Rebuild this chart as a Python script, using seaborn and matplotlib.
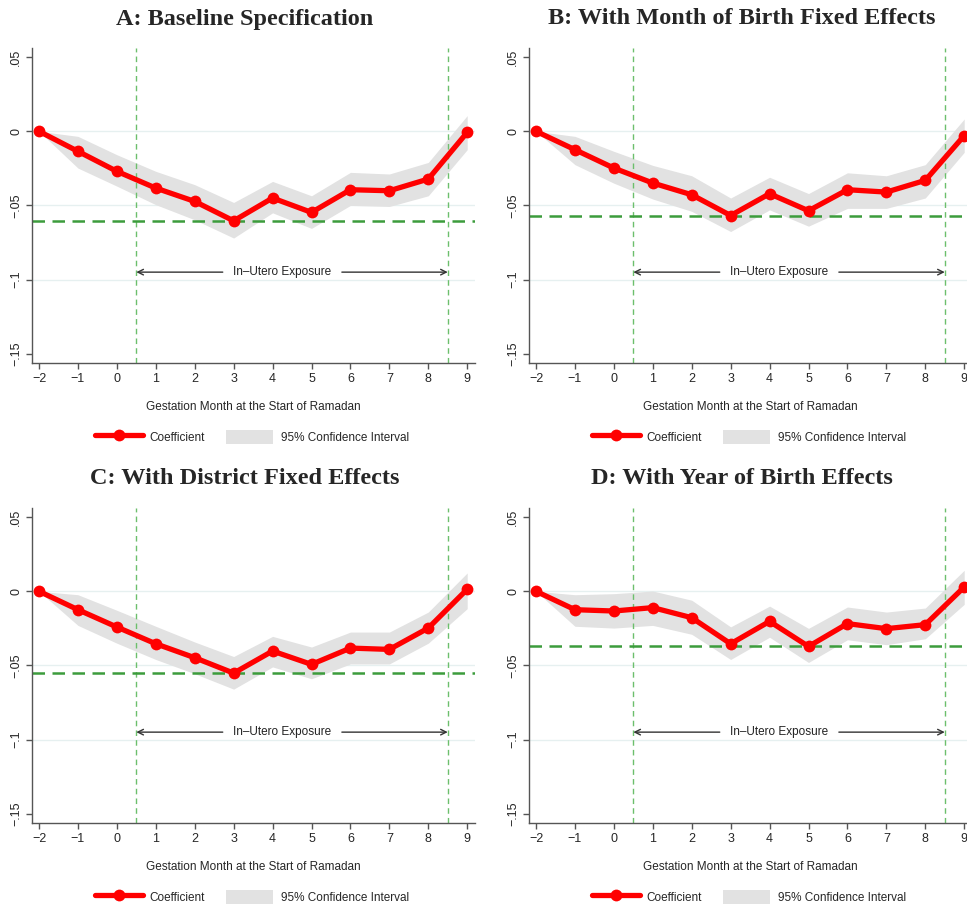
import numpy as np
import pandas as pd
import matplotlib.pyplot as plt
import seaborn as sns
from matplotlib.lines import Line2D
from matplotlib.patches import Patch

months = [-2, -1, 0, 1, 2, 3, 4, 5, 6, 7, 8, 9]

titles = ["A: Baseline Specification",
          "B: With Month of Birth Fixed Effects",
          "C: With District Fixed Effects",
          "D: With Year of Birth Effects"]

coef_a = [0, -0.0135, -0.0270, -0.0383, -0.0473, -0.0604, -0.0450, -0.0547, -0.0394, -0.0401, -0.0322, -0.0007]
lo_a = [0, -0.0248, -0.0370, -0.0495, -0.0597, -0.0720, -0.0550, -0.0655, -0.0500, -0.0507, -0.0435, -0.0124]
hi_a = [0, -0.0034, -0.0158, -0.0270, -0.0360, -0.0480, -0.0338, -0.0435, -0.0277, -0.0288, -0.0210, 0.0106]

coef_b = [0, -0.0124, -0.0248, -0.0349, -0.0428, -0.0568, -0.0421, -0.0536, -0.0394, -0.0410, -0.0331, -0.0029]
lo_b = [0, -0.0225, -0.0350, -0.0457, -0.0540, -0.0676, -0.0530, -0.0640, -0.0520, -0.0520, -0.0450, -0.0142]
hi_b = [0, -0.0034, -0.0135, -0.0230, -0.0300, -0.0450, -0.0310, -0.0420, -0.0280, -0.0300, -0.0225, 0.0083]

coef_c = [0, -0.0124, -0.0241, -0.0354, -0.0448, -0.0552, -0.0403, -0.0493, -0.0383, -0.0392, -0.0248, 0.0014]
lo_c = [0, -0.0230, -0.0350, -0.0460, -0.0556, -0.0660, -0.0510, -0.0590, -0.0490, -0.0490, -0.0350, -0.0117]
hi_c = [0, -0.0023, -0.0128, -0.0236, -0.0342, -0.0440, -0.0304, -0.0376, -0.0275, -0.0275, -0.0140, 0.0124]

coef_d = [0, -0.0124, -0.0133, -0.0110, -0.0178, -0.0354, -0.0203, -0.0372, -0.0218, -0.0252, -0.0225, 0.0029]
lo_d = [0, -0.0236, -0.0248, -0.0230, -0.0290, -0.0460, -0.0310, -0.0480, -0.0327, -0.0360, -0.0320, -0.0088]
hi_d = [0, -0.0023, -0.0016, 0.0002, -0.0060, -0.0240, -0.0100, -0.0250, -0.0106, -0.0140, -0.0113, 0.0142]

frames = []
for t, c, lo, hi in zip(titles, [coef_a, coef_b, coef_c, coef_d],
                        [lo_a, lo_b, lo_c, lo_d], [hi_a, hi_b, hi_c, hi_d]):
    frames.append(pd.DataFrame({"panel": t, "month": months, "coef": c, "lo": lo, "hi": hi}))
df = pd.concat(frames, ignore_index=True)

yticks = [0.05, 0, -0.05, -0.1, -0.15]
yticklabels = [".05", "0", "\u2212.05", "\u2212.1", "\u2212.15"]

sns.set_style("white")
plt.rcParams['font.family'] = ['Liberation Sans', 'DejaVu Sans']

W, H = 967, 905
fig = plt.figure(figsize=(W / 100, H / 100), dpi=100)

# axes boxes in pixels: left, top, right, bottom
boxes = [(32, 48, 475, 363), (529, 48, 972, 363),
         (32, 508, 475, 823), (529, 508, 972, 823)]
title_x = [245, 742, 245, 742]

for i, t in enumerate(titles):
    l, tp, r, b = boxes[i]
    ax = fig.add_axes([l / W, 1 - b / H, (r - l) / W, (b - tp) / H])
    sub = df[df.panel == t]

    for g in [0, -0.05, -0.1]:
        ax.axhline(g, color="#e6f0f0", lw=1, zorder=0)

    ax.fill_between(sub.month, sub.lo, sub.hi, color="#e2e2e2", lw=0, zorder=1)
    sns.lineplot(data=sub, x="month", y="coef", ax=ax, color="red", lw=3.8,
                 marker="o", markersize=8.5, markeredgewidth=0, zorder=3)

    for v in [0.5, 8.5]:
        ax.axvline(v, color="#6cbf6c", lw=1, dashes=(4, 3), zorder=2)
    ax.axhline(sub.coef.min(), color="#3c9c3c", lw=1.8, dashes=(5, 3), zorder=2)

    ax.annotate("", xy=(0.5, -0.095), xytext=(2.72, -0.095),
                arrowprops=dict(arrowstyle="->", color="#333333", lw=1, shrinkA=0, shrinkB=0))
    ax.annotate("", xy=(8.5, -0.095), xytext=(5.78, -0.095),
                arrowprops=dict(arrowstyle="->", color="#333333", lw=1, shrinkA=0, shrinkB=0))
    ax.text(4.25, -0.095, "In\u2013Utero Exposure", ha="center", va="center",
            fontsize=8.5, color="#222222")

    ax.set_xlim(-2.18, 9.2)
    ax.set_ylim(-0.1563, 0.0562)
    ax.set_xticks(months)
    ax.set_xticklabels([str(m).replace("-", "\u2212") for m in months], fontsize=9)
    ax.set_yticks(yticks)
    ax.set_yticklabels(yticklabels, rotation=90, va="center", fontsize=9)
    ax.tick_params(axis="both", direction="out", length=4, width=1, color="#555555",
                   bottom=True, left=True, pad=3)
    for s in ["top", "right"]:
        ax.spines[s].set_visible(False)
    for s in ["left", "bottom"]:
        ax.spines[s].set_color("#555555")
        ax.spines[s].set_linewidth(1)
    ax.set_xlabel("Gestation Month at the Start of Ramadan", fontsize=8.5, labelpad=12)
    ax.set_ylabel("")

    fig.text(title_x[i] / W, 1 - (tp - 29) / H, t, ha="center", va="center",
             fontsize=17.5, fontweight="bold", family="Liberation Serif")

    handles = [Line2D([0], [0], color="red", lw=3.8, marker="o", markersize=8.5, markeredgewidth=0),
               Patch(facecolor="#e2e2e2", edgecolor="none")]
    fig.legend(handles, ["Coefficient", "95% Confidence Interval"], ncol=2,
               loc="center", bbox_to_anchor=(252 / W + (l - 32) / W, 1 - (b + 74) / H),
               frameon=False, fontsize=8.5, handlelength=4, handleheight=1.4,
               columnspacing=1.8, handletextpad=0.6)

plt.savefig("out.png", dpi=100)
